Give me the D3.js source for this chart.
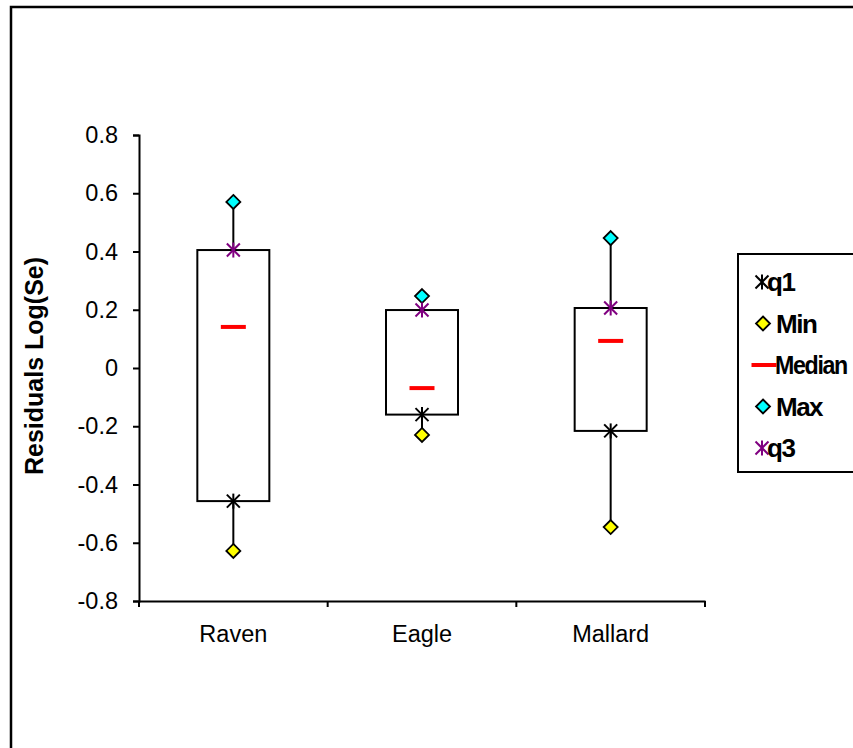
<!DOCTYPE html>
<html><head><meta charset="utf-8">
<script src="https://cdn.jsdelivr.net/npm/d3@7"></script>
<style>body{margin:0;background:#fff}svg{display:block}text{font-family:"Liberation Sans",Arial,sans-serif}</style>
</head><body>
<script>
const categories = ["Raven","Eagle","Mallard"];
const minVals = [-0.628,-0.230,-0.546];
const q1Vals = [-0.457,-0.160,-0.216];
const medianVals = [0.141,-0.069,0.093];
const q3Vals = [0.405,0.199,0.206];
const maxVals = [0.570,0.247,0.446];
const yTicks = [-0.8,-0.6,-0.4,-0.2,0,0.2,0.4,0.6,0.8];
const legendItems = ["q1","Min","Median","Max","q3"];

const W=853,H=748;
const svg=d3.select("body").append("svg").attr("width",W).attr("height",H);
svg.append("rect").attr("x",11).attr("y",7).attr("width",900).attr("height",800)
  .attr("fill","#fff").attr("stroke","#000").attr("stroke-width",2.5);

const x=d3.scaleBand().domain(categories).range([139,705]).padding(0);
const y=d3.scaleLinear().domain([-0.8,0.8]).range([601,135]);

const fmt=d=>d===0?"0":d3.format(".1f")(d).replace("\u2212","-");
const yAxis=svg.append("g").attr("transform","translate(139,0)")
  .call(d3.axisLeft(y).tickValues(yTicks).tickSize(6).tickPadding(15).tickFormat(fmt));
const xAxis=svg.append("g").attr("transform","translate(0,601)")
  .call(d3.axisBottom(x).tickSize(0).tickPadding(24));
[yAxis,xAxis].forEach(g=>{g.attr("font-size",null).attr("font-family",null);
  g.select(".domain").attr("stroke","#000").attr("stroke-width",2);
  g.selectAll("line").attr("stroke","#000").attr("stroke-width",2);
  g.selectAll("text").style("font-size","23.5px").attr("fill","#000").style("font-family","Liberation Sans, Arial, sans-serif");});
const bounds=[...categories.map(c=>x(c)),x(categories[categories.length-1])+x.bandwidth()];
xAxis.selectAll(".bt").data(bounds).enter().append("line")
  .attr("x1",d=>d).attr("x2",d=>d).attr("y1",0).attr("y2",6).attr("stroke","#000").attr("stroke-width",2);

svg.append("text").attr("transform","translate(43,366) rotate(-90)").attr("text-anchor","middle")
  .style("font-size","25px").attr("font-weight","bold").text("Residuals Log(Se)");

const data=categories.map((c,i)=>({c,min:minVals[i],q1:q1Vals[i],med:medianVals[i],q3:q3Vals[i],max:maxVals[i]}));
const cx=d=>x(d.c)+x.bandwidth()/2;
const bw=72;

function star(g,px,py,color){
  const r=7.5, a=6.5;
  g.append("line").attr("x1",px).attr("x2",px).attr("y1",py-r).attr("y2",py+r).attr("stroke",color).attr("stroke-width",2);
  g.append("line").attr("x1",px-a).attr("x2",px+a).attr("y1",py-a).attr("y2",py+a).attr("stroke",color).attr("stroke-width",2);
  g.append("line").attr("x1",px-a).attr("x2",px+a).attr("y1",py+a).attr("y2",py-a).attr("stroke",color).attr("stroke-width",2);
}
function diamond(g,px,py,fill){
  const r=7;
  g.append("path").attr("d",`M${px},${py-r}L${px+r},${py}L${px},${py+r}L${px-r},${py}Z`)
   .attr("fill",fill).attr("stroke","#000").attr("stroke-width",1.8);
}
function dash(g,px,py){
  g.append("line").attr("x1",px-12.5).attr("x2",px+12.5).attr("y1",py).attr("y2",py).attr("stroke","#ff0000").attr("stroke-width",4);
}

const plot=svg.append("g");
data.forEach(d=>{
  plot.append("line").attr("x1",cx(d)).attr("x2",cx(d)).attr("y1",y(d.min)).attr("y2",y(d.max)).attr("stroke","#000").attr("stroke-width",2);
  plot.append("rect").attr("x",cx(d)-bw/2).attr("y",y(d.q3)).attr("width",bw).attr("height",y(d.q1)-y(d.q3))
    .attr("fill","#fff").attr("stroke","#000").attr("stroke-width",2);
  dash(plot,cx(d),y(d.med));
  star(plot,cx(d),y(d.q1),"#000");
  diamond(plot,cx(d),y(d.min),"#ffff00");
  diamond(plot,cx(d),y(d.max),"#00ffff");
  star(plot,cx(d),y(d.q3),"#800080");
});

const lg=svg.append("g");
lg.append("rect").attr("x",738).attr("y",254).attr("width",200).attr("height",218)
  .attr("fill","#fff").attr("stroke","#000").attr("stroke-width",2);
const ly=d3.scalePoint().domain(legendItems).range([282,448]);
legendItems.forEach(k=>{
  const py=ly(k);
  if(k==="q1") star(lg,762,py,"#000");
  if(k==="q3") star(lg,762,py,"#800080");
  if(k==="Min") diamond(lg,763,py,"#ffff00");
  if(k==="Max") diamond(lg,763,py,"#00ffff");
  if(k==="Median") dash(lg,764,py);
  const tx=k.startsWith("q")?767:776;
  const tg=lg.append("g").attr("transform",`translate(${tx},${py})`);
  const t=tg.append("text").attr("x",0).attr("y",0).attr("dy","0.36em")
    .style("font-size","26px").attr("font-weight","bold").attr("letter-spacing",-1.5).text(k);
  if(k==="Median"){
    const w=t.node().getComputedTextLength();
    const sx=Math.min(1,72/w);
    tg.attr("transform",`translate(${tx-1},${py}) scale(${sx},1)`);
  }
});
</script>
</body></html>
